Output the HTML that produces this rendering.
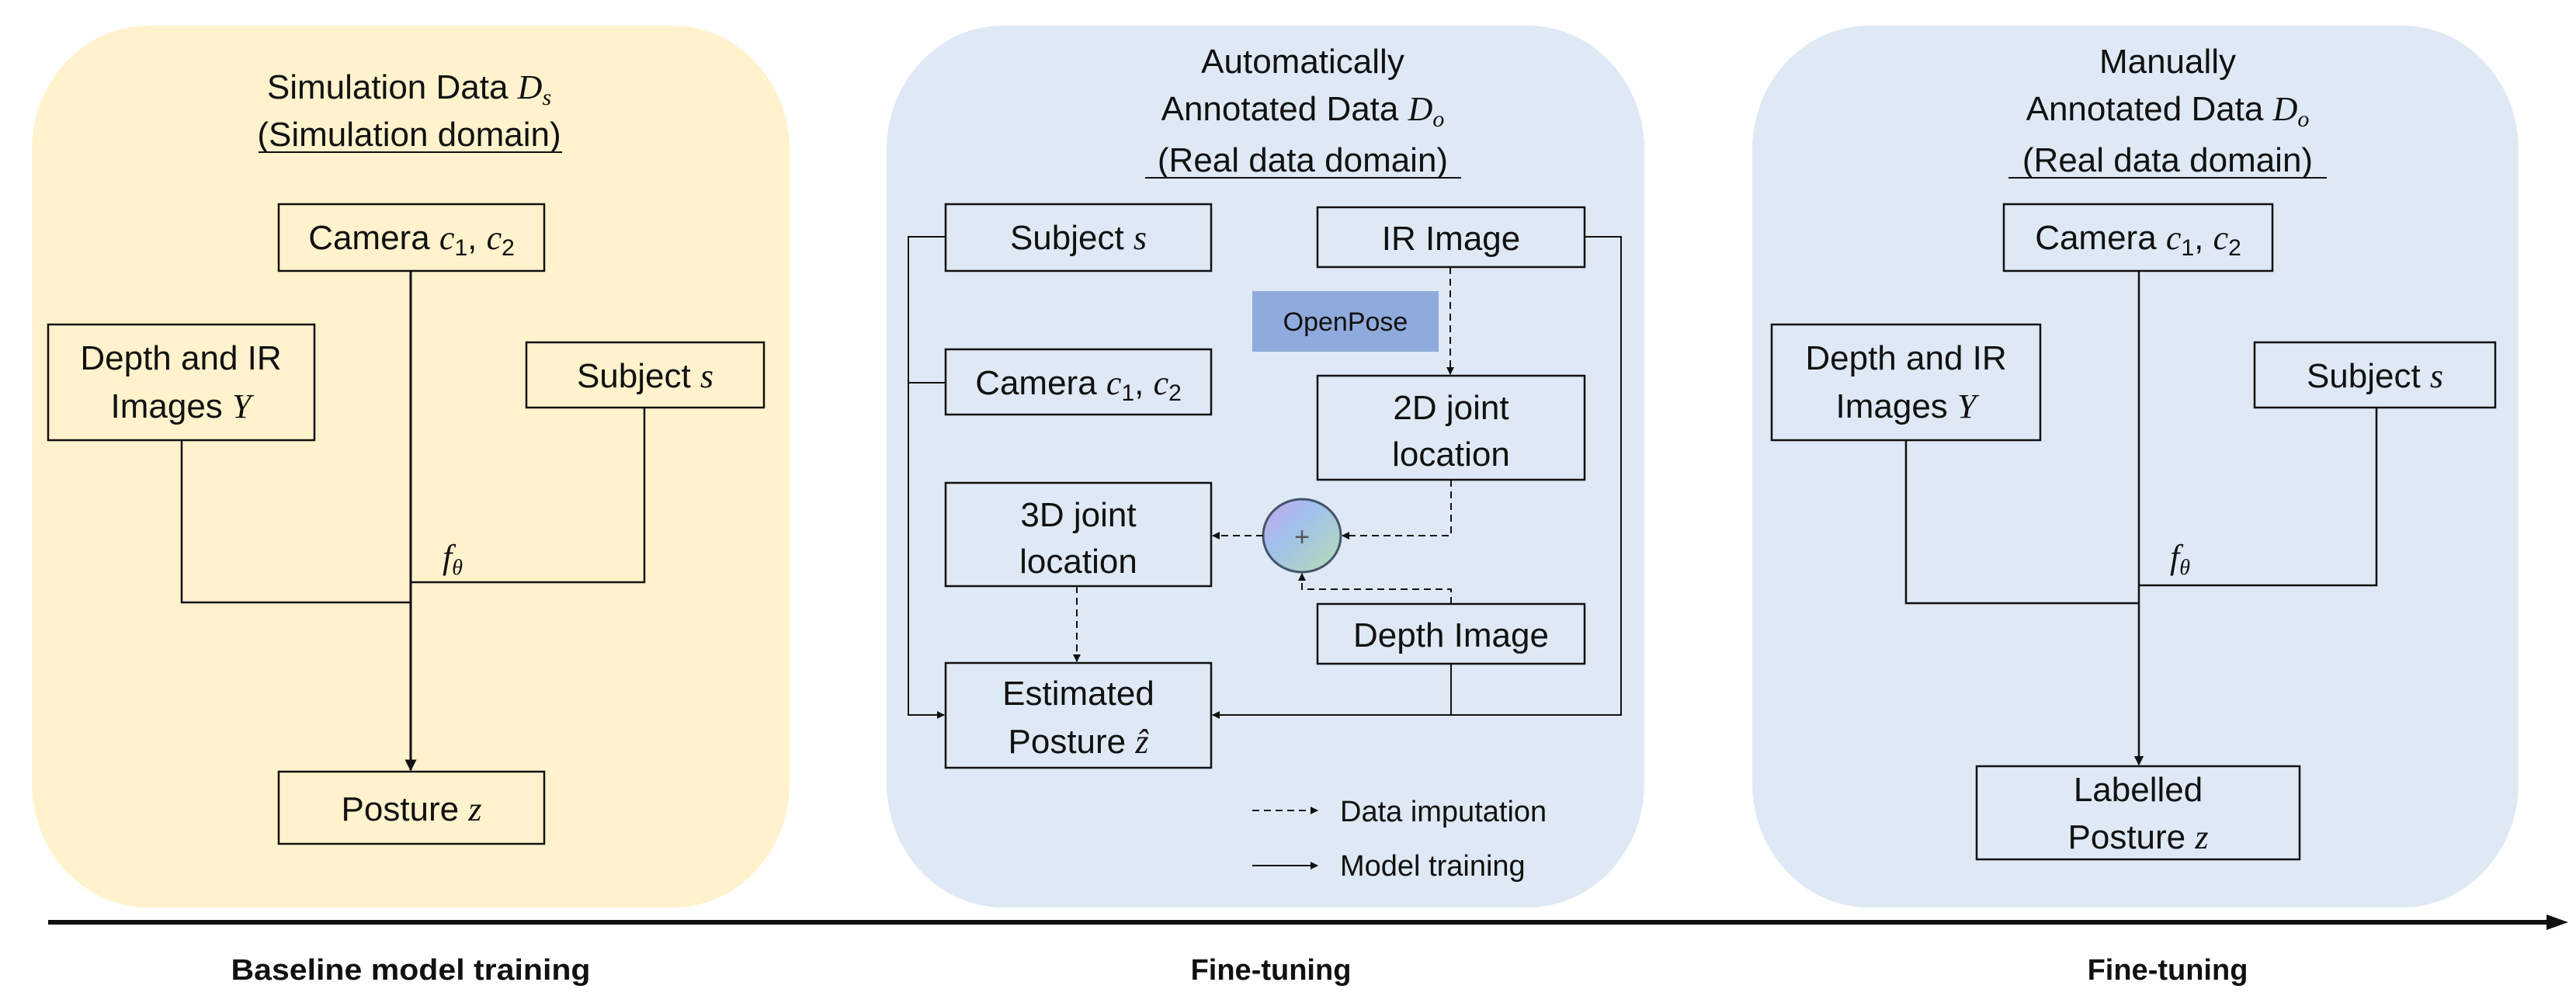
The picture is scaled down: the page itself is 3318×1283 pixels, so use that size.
<!DOCTYPE html>
<html><head><meta charset="utf-8"><style>
html,body{margin:0;padding:0;background:#fff;}
svg{display:block;}
text{font-family:"Liberation Sans",sans-serif;fill:#111;}
.m{font-family:"Liberation Serif",serif;font-style:italic;}
.b{font-weight:bold;}
</style></head><body>
<svg width="3318" height="1283" viewBox="0 0 3318 1283" xmlns="http://www.w3.org/2000/svg">
<defs>
<marker id="a" viewBox="0 0 10 10" refX="9" refY="5" markerWidth="5" markerHeight="5" orient="auto"><path d="M0,0L10,5L0,10z" fill="#111"/></marker>
<linearGradient id="g" x1="0" y1="0" x2="1" y2="1"><stop offset="0" stop-color="#c9a2ee"/><stop offset="0.4" stop-color="#9fc1ec"/><stop offset="1" stop-color="#b9dcb3"/></linearGradient>
</defs>
<rect x="41" y="33" width="976" height="1136" rx="150" ry="160" fill="#fff2cc"/>
<rect x="1142" y="33" width="976" height="1136" rx="150" ry="160" fill="#dee9f5"/>
<rect x="2257" y="33" width="987" height="1136" rx="150" ry="160" fill="#dee9f5"/>

<g font-size="44" text-anchor="middle">
<text x="527" y="127">Simulation Data <tspan class="m">D</tspan><tspan class="m" font-size="30" dy="8">s</tspan></text>
<text x="527" y="188">(Simulation domain)</text>
<line x1="333" y1="196" x2="724" y2="196" stroke="#111" stroke-width="2"/>
<g fill="none" stroke="#111" stroke-width="2.5">
<rect x="359" y="263" width="342" height="86"/>
<rect x="62" y="418" width="343" height="149"/>
<rect x="678" y="441" width="306" height="84"/>
<rect x="359" y="994" width="342" height="93"/>
<path d="M234,567V776H529"/>
<path d="M830,525V750H529"/>
<path d="M529,349V992" stroke-width="3" marker-end="url(#a)"/>
</g>
<text x="530" y="321">Camera <tspan class="m">c</tspan><tspan font-size="30" dy="8">1</tspan><tspan dy="-8">, </tspan><tspan class="m">c</tspan><tspan font-size="30" dy="8">2</tspan></text>
<text x="233" y="476">Depth and IR</text>
<text x="233" y="538">Images <tspan class="m">Y</tspan></text>
<text x="831" y="499">Subject <tspan class="m">s</tspan></text>
<text x="530" y="1057">Posture <tspan class="m">z</tspan></text>
<text x="570" y="732" text-anchor="start" class="m">f<tspan font-size="28" dy="8">θ</tspan></text>

<text x="1678" y="94">Automatically</text>
<text x="1678" y="155">Annotated Data <tspan class="m">D</tspan><tspan class="m" font-size="30" dy="8">o</tspan></text>
<text x="1678" y="221">(Real data domain)</text>
<line x1="1475" y1="229" x2="1882" y2="229" stroke="#111" stroke-width="2"/>
<rect x="1613" y="375" width="240" height="78" fill="#8faadc"/>
<text x="1733" y="426" font-size="34">OpenPose</text>
<g fill="none" stroke="#111" stroke-width="2.5">
<rect x="1218" y="263" width="342" height="86"/>
<rect x="1697" y="267" width="344" height="77"/>
<rect x="1218" y="450" width="342" height="84"/>
<rect x="1697" y="484" width="344" height="134"/>
<rect x="1218" y="622" width="342" height="133"/>
<rect x="1697" y="778" width="344" height="77"/>
<rect x="1218" y="854" width="342" height="135"/>
</g>
<ellipse cx="1677" cy="690" rx="50" ry="47" fill="url(#g)" stroke="#44546a" stroke-width="3"/>
<text x="1677" y="703" font-size="34" style="fill:#555">+</text>
<g fill="none" stroke="#111" stroke-width="2">
<path d="M1218,305H1170V921H1216" marker-end="url(#a)"/>
<path d="M1218,493H1170"/>
<path d="M2041,305H2088V921H1562" marker-end="url(#a)"/>
<path d="M1869,855V921"/>
<g stroke-dasharray="9,6">
<path d="M1868,344V482" marker-end="url(#a)"/>
<path d="M1869,618V690H1729" marker-end="url(#a)"/>
<path d="M1627,690H1562" marker-end="url(#a)"/>
<path d="M1869,778V759H1677V739" marker-end="url(#a)"/>
<path d="M1387,755V852" marker-end="url(#a)"/>
<path d="M1613,1044H1697" marker-end="url(#a)"/>
</g>
<path d="M1613,1115H1697" marker-end="url(#a)"/>
</g>
<text x="1389" y="321">Subject <tspan class="m">s</tspan></text>
<text x="1869" y="322">IR Image</text>
<text x="1389" y="508">Camera <tspan class="m">c</tspan><tspan font-size="30" dy="8">1</tspan><tspan dy="-8">, </tspan><tspan class="m">c</tspan><tspan font-size="30" dy="8">2</tspan></text>
<text x="1869" y="540">2D joint</text>
<text x="1869" y="600">location</text>
<text x="1389" y="678">3D joint</text>
<text x="1389" y="738">location</text>
<text x="1869" y="833">Depth Image</text>
<text x="1389" y="908">Estimated</text>
<text x="1389" y="970">Posture <tspan class="m">ẑ</tspan></text>
<text x="1726" y="1058" text-anchor="start" font-size="38">Data imputation</text>
<text x="1726" y="1128" text-anchor="start" font-size="38">Model training</text>

<text x="2792" y="94">Manually</text>
<text x="2792" y="155">Annotated Data <tspan class="m">D</tspan><tspan class="m" font-size="30" dy="8">o</tspan></text>
<text x="2792" y="221">(Real data domain)</text>
<line x1="2587" y1="229" x2="2997" y2="229" stroke="#111" stroke-width="2"/>
<g fill="none" stroke="#111" stroke-width="2.5">
<rect x="2581" y="263" width="346" height="86"/>
<rect x="2282" y="418" width="346" height="149"/>
<rect x="2904" y="441" width="310" height="84"/>
<rect x="2546" y="987" width="416" height="120"/>
<path d="M2455,567V777H2755"/>
<path d="M3061,525V754H2755"/>
<path d="M2755,349V985" marker-end="url(#a)"/>
</g>
<text x="2754" y="321">Camera <tspan class="m">c</tspan><tspan font-size="30" dy="8">1</tspan><tspan dy="-8">, </tspan><tspan class="m">c</tspan><tspan font-size="30" dy="8">2</tspan></text>
<text x="2455" y="476">Depth and IR</text>
<text x="2455" y="538">Images <tspan class="m">Y</tspan></text>
<text x="3059" y="499">Subject <tspan class="m">s</tspan></text>
<text x="2754" y="1032">Labelled</text>
<text x="2754" y="1093">Posture <tspan class="m">z</tspan></text>
<text x="2795" y="732" text-anchor="start" class="m">f<tspan font-size="28" dy="8">θ</tspan></text>
</g>

<line x1="62" y1="1188" x2="3285" y2="1188" stroke="#111" stroke-width="6"/>
<path d="M3280,1178L3308,1188L3280,1198z" fill="#111"/>
<g font-size="38" text-anchor="middle" class="b">
<text x="529" y="1262" class="b" textLength="463" lengthAdjust="spacingAndGlyphs">Baseline model training</text>
<text x="1637" y="1262" class="b">Fine-tuning</text>
<text x="2792" y="1262" class="b">Fine-tuning</text>
</g>
</svg>
</body></html>
